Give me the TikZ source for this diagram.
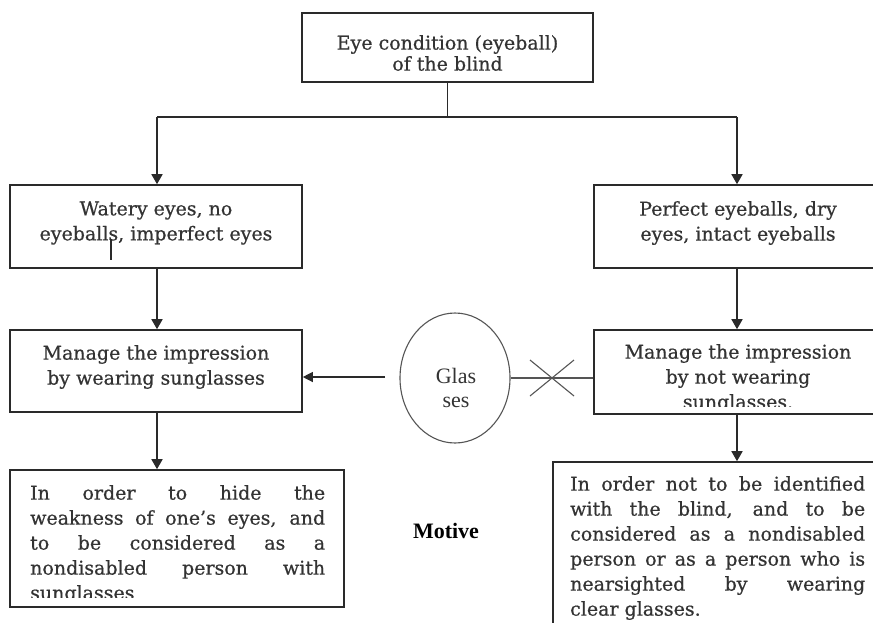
\documentclass[tikz,border=0pt]{standalone}
\usepackage{fontspec}
\setmainfont[FakeBold=0.6]{DejaVu Serif}
\newfontfamily\tnr{Liberation Serif}
\usetikzlibrary{arrows.meta,shapes.geometric}
\definecolor{ink}{HTML}{2A2A2A}
\definecolor{txt}{HTML}{333333}
\definecolor{soft}{HTML}{555555}
\begin{document}
\begin{tikzpicture}[x=1pt,y=-1pt,
  box/.style={draw=ink, line width=1.6pt, inner sep=0pt, rectangle},
  btxt/.style={font=\fontsize{19}{25}\selectfont, text=txt, align=center, inner sep=0pt},
  jtxt/.style={btxt, text width=295pt, align=justify, anchor=north west,
    execute at begin node={\hyphenpenalty=10000\exhyphenpenalty=10000}},
  ln/.style={draw=ink, line width=1.6pt},
  arr/.style={draw=ink, line width=1.6pt, -{Triangle[width=11pt,length=10pt]}},
  thinln/.style={draw=soft, line width=1.1pt},
  thinarr/.style={draw=ink, line width=1.2pt, -{Triangle[width=10pt,length=10pt]}}]
\useasboundingbox (0,0) rectangle (873,622);
\fill[white] (0,0) rectangle (873,622);

% boxes
\node[box, minimum width=291pt, minimum height=69pt] (top) at (447.5,47.5) {};
\node[btxt, font=\fontsize{19}{21}\selectfont] (toptxt) at (447.5,53) {Eye condition (eyeball)\\of the blind};

\node[box, minimum width=292pt, minimum height=83pt] (lb2) at (156,226.5) {};
\node[btxt] (lb2t) at (156,223) {Watery eyes, no\\eyeballs, imperfect eyes};

\node[box, minimum width=282pt, minimum height=83pt] (rb2) at (735,226.5) {};
\node[btxt] (rb2t) at (738,223) {Perfect eyeballs, dry\\eyes, intact eyeballs};

\node[box, minimum width=292pt, minimum height=82pt] (lb3) at (156,371) {};
\node[btxt] (lb3t) at (156,367) {Manage the impression\\by wearing sunglasses};

\node[box, minimum width=282pt, minimum height=84pt] (rb3) at (735,372) {};
\begin{scope}
  \clip (594,331) rectangle (876,406);
  \node[btxt, anchor=north] (rb3t) at (738,344) {Manage the impression\\by not wearing\\sunglasses.};
\end{scope}

\node[box, minimum width=334pt, minimum height=137pt] (lb4) at (177,538.5) {};
\begin{scope}
  \clip (11,471) rectangle (343,597);
  \node[jtxt] (lb4t) at (30,485)
  {In order to hide the\linebreak weakness of one’s eyes, and\linebreak to be considered as a\linebreak nondisabled person with\linebreak sunglasses};
\end{scope}

\node[box, minimum width=323pt, minimum height=178pt] (rb4) at (714.5,551) {};
\node[jtxt] (rb4t) at (570,476)
  {In order not to be identified\linebreak with the blind, and to be\linebreak considered as a nondisabled\linebreak person or as a person who is\linebreak nearsighted by wearing\linebreak clear glasses.};

% glasses ellipse
\node[ellipse, draw=soft, line width=1.1pt, minimum width=110pt, minimum height=130pt, inner sep=0pt] (gl) at (455,378) {};
\node[font=\tnr\fontsize{22}{24}\selectfont, text=txt, align=center, inner sep=0pt] (glt) at (456,388) {Glas\\ses};

\node[font=\tnr\bfseries\fontsize{22}{24}\selectfont, inner sep=0pt] (motive) at (446,531) {Motive};

% connectors
\coordinate (split) at (447.5,117);
\coordinate (sl) at (157,117);
\coordinate (sr) at (737,117);
\draw[ln] (top.south) -- (split);
\draw[ln] (sl) -- (sr);
\draw[arr] (sl) -- (sl |- lb2.north);
\draw[arr] (sr) -- (sr |- rb2.north);
\draw[arr] (lb2.south -| sl) -- (lb3.north -| sl);
\draw[arr] (rb2.south -| sr) -- (rb3.north -| sr);
\draw[arr] (lb3.south -| sl) -- (lb4.north -| sl);
\draw[arr] (rb3.south -| sr) -- (rb4.north -| sr);

\coordinate (ga) at (385,377);
\draw[thinarr] (ga) -- (ga -| lb3.east);
\draw[thinln] (gl.east) -- (gl.east -| rb3.west);
\coordinate (xc) at (552,378);
\draw[thinln] (xc) ++(-22,-18) -- ++(44,36);
\draw[thinln] (xc) ++(-22,18) -- ++(44,-36);

% stray tick inside the second left box
\draw[ln, line width=1.3pt] (111,239) -- (111,260);
\end{tikzpicture}
\end{document}
